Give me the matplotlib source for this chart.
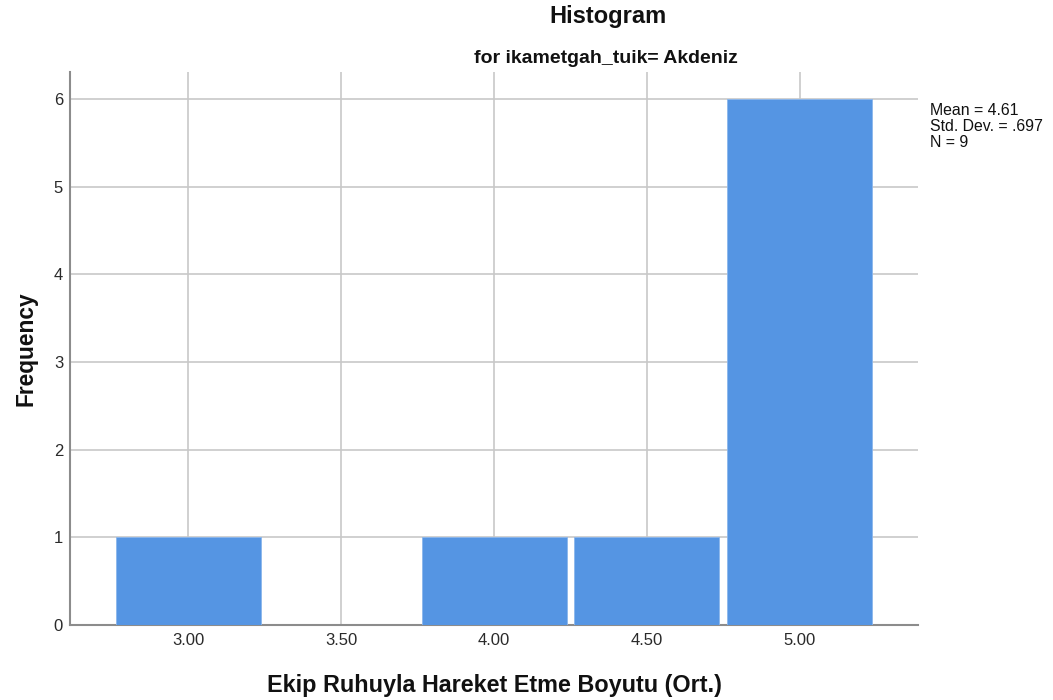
import matplotlib
matplotlib.use("Agg")
import matplotlib.pyplot as plt

plt.rcParams['font.family'] = ['Liberation Sans', 'DejaVu Sans']

# histogram bins (centres) and counts
bin_centers = [3.00, 3.50, 4.00, 4.50, 5.00]
counts = [1, 0, 1, 1, 6]
xtick_labels = ["3.00", "3.50", "4.00", "4.50", "5.00"]
yticks = [0, 1, 2, 3, 4, 5, 6]
stats_text = ["Mean = 4.61", "Std. Dev. = .697", "N = 9"]

fig = plt.figure(figsize=(10.53, 7), dpi=100)
ax = fig.add_axes([0.0665, 0.1071, 0.8053, 0.79])

ax.bar(bin_centers, counts, width=0.474, color="#5595e3", edgecolor="#8ab6ec",
       linewidth=0.6, zorder=3)

ax.set_xlim(2.614, 5.386)
ax.set_ylim(0, 6.31)
ax.set_xticks(bin_centers)
ax.set_xticklabels(xtick_labels)
ax.set_yticks(yticks)
ax.tick_params(axis="both", length=0, labelsize=12, colors="#2a2a2a")
ax.tick_params(axis="x", pad=6)
ax.tick_params(axis="y", pad=5)

ax.grid(True, color="#c8c8c8", linewidth=1.2, zorder=0)
for s in ["top", "right"]:
    ax.spines[s].set_visible(False)
for s in ["left", "bottom"]:
    ax.spines[s].set_color("#8c8c8c")
    ax.spines[s].set_linewidth(1.5)

ax.set_xlabel("Ekip Ruhuyla Hareket Etme Boyutu (Ort.)", fontsize=16.8,
              fontweight="bold", labelpad=18.5, color="#111111")
ax.set_ylabel("Frequency", fontsize=16.4, fontweight="bold", labelpad=12,
              color="#111111")

fig.text(0.5774, 0.976, "Histogram", ha="center", va="center", fontsize=17,
         fontweight="bold", color="#111111")
fig.text(0.5755, 0.916, "for ikametgah_tuik= Akdeniz", ha="center",
         va="center", fontsize=14, fontweight="bold", color="#111111")

fig.text(0.8832, 0.853, "\n".join(stats_text), ha="left", va="top",
         fontsize=11.4, linespacing=1.09, color="#111111")

fig.savefig("out.png", dpi=100)
